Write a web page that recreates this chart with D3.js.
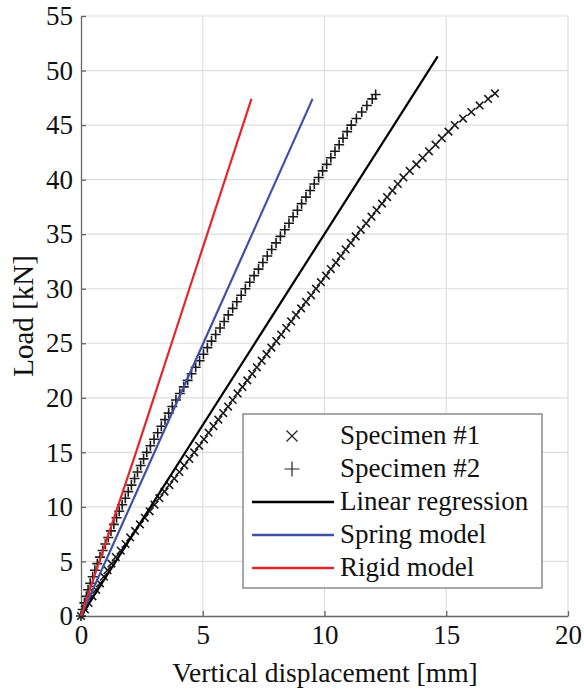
<!DOCTYPE html>
<html>
<head>
<meta charset="utf-8">
<script src="https://cdn.jsdelivr.net/npm/d3@7"></script>
<style>
  body { margin: 0; background: #fff; }
  text { font-family: "Liberation Serif", "Times New Roman", serif; fill: #111; }
</style>
</head>
<body>
<div id="chart"></div>
<script>
// tick values
const xTicks = [0, 5, 10, 15, 20];
const yTicks = [0, 5, 10, 15, 20, 25, 30, 35, 40, 45, 50, 55];

// Specimen #1 (x markers): load [kN] and displacement [mm]
const spec1Load = [0, 0.6, 1.2, 1.8, 2.4, 3.0, 3.6, 4.2, 4.8, 5.4, 6.0, 6.6, 7.2, 7.8, 8.4, 9.0, 9.6,
  10.2, 10.8, 11.4, 12.0, 12.6, 13.2, 13.8, 14.4, 15.0, 15.6, 16.2, 16.8, 17.4, 18.0, 18.6, 19.2, 19.8,
  20.4, 21.0, 21.6, 22.2, 22.8, 23.4, 24.0, 24.6, 25.2, 25.8, 26.4, 27.0, 27.6, 28.2, 28.8, 29.4, 30.0,
  30.6, 31.2, 31.8, 32.4, 33.0, 33.6, 34.2, 34.8, 35.4, 36.0, 36.6, 37.2, 37.8, 38.4, 39.0, 39.6,
  40.2, 40.8, 41.4, 42.0, 42.6, 43.2, 43.8, 44.4, 45.0, 45.6, 46.2, 46.8, 47.4, 47.9];
const spec1Disp = [0, 0.16, 0.31, 0.47, 0.62, 0.78, 0.94, 1.09, 1.25, 1.43, 1.63, 1.83, 2.02, 2.22, 2.42, 2.62, 2.82,
  3.02, 3.22, 3.43, 3.63, 3.83, 4.04, 4.24, 4.45, 4.65, 4.85, 5.05, 5.24, 5.44, 5.64, 5.84, 6.04, 6.23,
  6.43, 6.63, 6.83, 7.03, 7.22, 7.42, 7.62, 7.82, 8.02, 8.22, 8.43, 8.63, 8.83, 9.04, 9.24, 9.45, 9.65,
  9.85, 10.06, 10.26, 10.47, 10.67, 10.87, 11.08, 11.28, 11.49, 11.71, 11.93, 12.14, 12.36, 12.57, 12.79, 13.01,
  13.24, 13.50, 13.77, 14.03, 14.29, 14.56, 14.82, 15.09, 15.35, 15.69, 16.03, 16.37, 16.72, 17.00];

// Specimen #2 (+ markers)
const spec2Load = [0, 0.6, 1.2, 1.8, 2.4, 3.0, 3.6, 4.2, 4.8, 5.4, 6.0, 6.6, 7.2, 7.8, 8.4, 9.0, 9.6,
  10.2, 10.8, 11.4, 12.0, 12.6, 13.2, 13.8, 14.4, 15.0, 15.6, 16.2, 16.8, 17.4, 18.0, 18.6, 19.2, 19.8,
  20.4, 21.0, 21.6, 22.2, 22.8, 23.4, 24.0, 24.6, 25.2, 25.8, 26.4, 27.0, 27.6, 28.2, 28.8, 29.4, 30.0,
  30.6, 31.2, 31.8, 32.4, 33.0, 33.6, 34.2, 34.8, 35.4, 36.0, 36.6, 37.2, 37.8, 38.4, 39.0, 39.6,
  40.2, 40.8, 41.4, 42.0, 42.6, 43.2, 43.8, 44.4, 45.0, 45.6, 46.2, 46.8, 47.4, 47.8];
const spec2Disp = [0, 0.07, 0.14, 0.22, 0.29, 0.38, 0.48, 0.57, 0.67, 0.78, 0.89, 1.00, 1.12, 1.23, 1.35, 1.46, 1.57,
  1.69, 1.82, 1.94, 2.07, 2.20, 2.32, 2.45, 2.57, 2.70, 2.85, 3.00, 3.15, 3.30, 3.45, 3.60, 3.75, 3.90,
  4.06, 4.22, 4.38, 4.54, 4.71, 4.87, 5.03, 5.19, 5.36, 5.53, 5.71, 5.88, 6.05, 6.23, 6.40, 6.58, 6.75,
  6.93, 7.11, 7.29, 7.47, 7.65, 7.83, 8.01, 8.19, 8.37, 8.54, 8.71, 8.89, 9.06, 9.24, 9.41, 9.58,
  9.76, 9.92, 10.09, 10.26, 10.43, 10.60, 10.76, 10.93, 11.10, 11.31, 11.53, 11.74, 11.96, 12.10];

// model lines
const regressionDisp = [0, 14.65];
const regressionLoad = [0, 51.3];
const springDisp = [0, 4.02, 9.51];
const springLoad = [0, 20, 47.4];
const rigidDisp = [0, 2.26, 4.45, 7.0];
const rigidLoad = [0, 15, 30, 47.4];

const legendLabels = ["Specimen #1", "Specimen #2", "Linear regression", "Spring model", "Rigid model"];

const W = 584, H = 693;
const margin = {left: 81, top: 16, right: 16, bottom: 77};

const svg = d3.select("#chart").append("svg")
  .attr("width", W).attr("height", H);

const x = d3.scaleLinear().domain([0, 20]).range([margin.left, W - margin.right]);
const y = d3.scaleLinear().domain([0, 55]).range([H - margin.bottom, margin.top]);

// grid
svg.append("g").selectAll("line").data(xTicks.slice(1)).join("line")
  .attr("x1", d => x(d)).attr("x2", d => x(d))
  .attr("y1", y(0)).attr("y2", y(55))
  .attr("stroke", "#dedede").attr("stroke-width", 1.2);
svg.append("g").selectAll("line").data(yTicks.slice(1)).join("line")
  .attr("x1", x(0)).attr("x2", x(20))
  .attr("y1", d => y(d)).attr("y2", d => y(d))
  .attr("stroke", "#dedede").attr("stroke-width", 1.2);

// axes
const xAxis = svg.append("g").attr("transform", `translate(0,${y(0)})`)
  .call(d3.axisBottom(x).tickValues(xTicks).tickSizeInner(-5).tickSizeOuter(0).tickPadding(9));
const yAxis = svg.append("g").attr("transform", `translate(${x(0)},0)`)
  .call(d3.axisLeft(y).tickValues(yTicks).tickSizeInner(-5).tickSizeOuter(0).tickPadding(8));
[xAxis, yAxis].forEach(a => {
  a.select(".domain").attr("stroke", "#666").attr("stroke-width", 1.3);
  a.selectAll(".tick line").attr("stroke", "#666").attr("stroke-width", 1.3);
  a.selectAll(".tick text").attr("font-size", 27).attr("fill", "#111");
});

svg.append("text")
  .attr("x", 325).attr("y", 682)
  .attr("text-anchor", "middle").attr("font-size", 27.5)
  .text("Vertical displacement [mm]");
svg.append("text")
  .attr("transform", `translate(33,${y(27.5)}) rotate(-90)`)
  .attr("text-anchor", "middle").attr("font-size", 29)
  .text("Load [kN]");

// markers
const crossPath = s => `M${-s},${-s}L${s},${s}M${-s},${s}L${s},${-s}`;
const plusPath = s => `M${-s},0H${s}M0,${-s}V${s}`;

svg.append("g").selectAll("path").data(spec1Load).join("path")
  .attr("transform", (d, i) => `translate(${x(spec1Disp[i])},${y(d)})`)
  .attr("d", crossPath(3.8))
  .attr("stroke", "#1a1a1a").attr("stroke-width", 1.6).attr("fill", "none");
svg.append("g").selectAll("path").data(spec2Load).join("path")
  .attr("transform", (d, i) => `translate(${x(spec2Disp[i])},${y(d)})`)
  .attr("d", plusPath(5))
  .attr("stroke", "#1a1a1a").attr("stroke-width", 1.6).attr("fill", "none");

// model lines
const line = d3.line().x(d => x(d[0])).y(d => y(d[1]));
function drawLine(xs, ys, color) {
  svg.append("path")
    .datum(xs.map((v, i) => [v, ys[i]]))
    .attr("d", line)
    .attr("fill", "none").attr("stroke", color).attr("stroke-width", 2.2);
}
drawLine(regressionDisp, regressionLoad, "#000");
drawLine(springDisp, springLoad, "#3f51a5");
drawLine(rigidDisp, rigidLoad, "#e52629");

// legend
const lg = svg.append("g").attr("transform", "translate(243,414)");
lg.append("rect").attr("width", 299).attr("height", 174)
  .attr("fill", "#fff").attr("stroke", "#7a7a7a").attr("stroke-width", 1.3);
const rowY = i => 22 + i * 33;
lg.append("path").attr("transform", `translate(49,${rowY(0)})`).attr("d", crossPath(5.5))
  .attr("stroke", "#222").attr("stroke-width", 1.2);
lg.append("path").attr("transform", `translate(49,${rowY(1)})`).attr("d", plusPath(7.5))
  .attr("stroke", "#222").attr("stroke-width", 1.2);
[["#000", 2], ["#3f51a5", 3], ["#e52629", 4]].forEach(([c, i]) => {
  lg.append("line").attr("x1", 9).attr("x2", 91).attr("y1", rowY(i)).attr("y2", rowY(i))
    .attr("stroke", c).attr("stroke-width", 2.4);
});
lg.selectAll("text").data(legendLabels).join("text")
  .attr("x", 97).attr("y", (d, i) => rowY(i) + 8)
  .attr("font-size", 27)
  .text(d => d);
</script>
</body>
</html>
